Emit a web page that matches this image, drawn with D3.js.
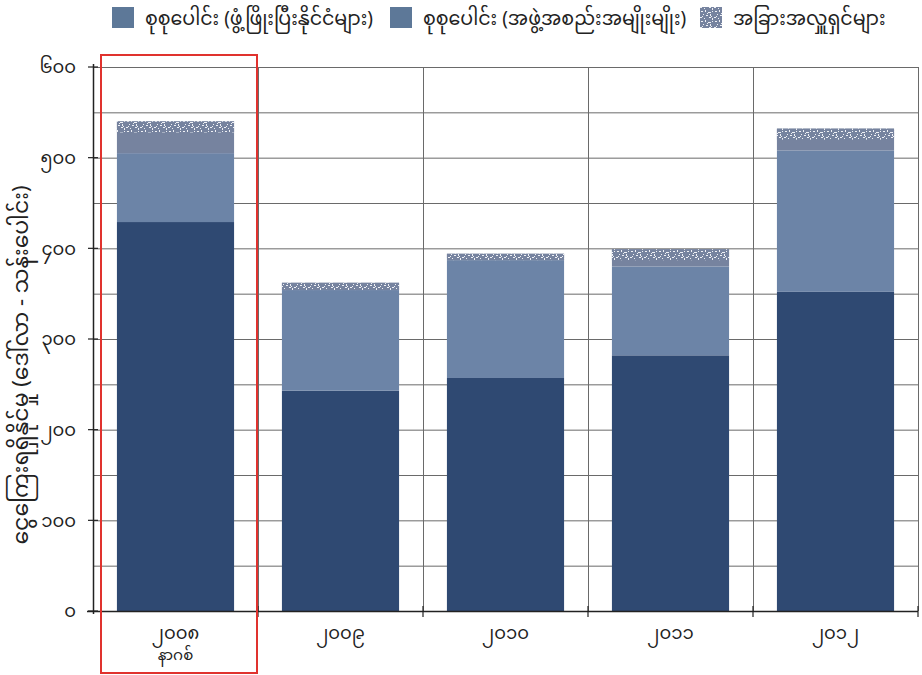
<!DOCTYPE html>
<html><head><meta charset="utf-8">
<script src="https://cdn.jsdelivr.net/npm/d3@7"></script>
<style>
html,body{margin:0;padding:0;background:#fff;}
svg{display:block;}
text{font-family:"Noto Sans Myanmar","Padauk","Myanmar Text","Noto Sans",sans-serif;fill:#222;}
</style></head>
<body>
<svg id="c" width="922" height="675"></svg>
<script>
const categories = ["၂၀၀၈", "၂၀၀၉", "၂၀၁၀", "၂၀၁၁", "၂၀၁၂"];
const categorySub = ["နာဂစ်", "", "", "", ""];
const developedCountries = [429, 243, 257, 282, 352];
const organizations = [76, 111, 130, 98, 156];
const otherDonors = [35, 8, 7, 19, 24];
const seriesNames = ["စုစုပေါင်း (ဖွံ့ဖြိုးပြီးနိုင်ငံများ)", "စုစုပေါင်း (အဖွဲ့အစည်းအမျိုးမျိုး)", "အခြားအလှူရှင်များ"];
const yTicks = [0, 100, 200, 300, 400, 500, 600];
const yTickLabels = ["၀", "၁၀၀", "၂၀၀", "၃၀၀", "၄၀၀", "၅၀၀", "၆၀၀"];
const yTitle = "ငွေကြေးရရှိနိုင်မှု (ဒေါ်လာ - သန်းပေါင်း)";
const highlightIndex = 0;

const colors = ["#2f4972", "#6c84a7", "#76839f"];

const svg = d3.select("#c");
const W = 922, H = 675;
const m = {l: 93, r: 4, t: 67, b: 64};
const x = d3.scaleBand().domain(categories).range([m.l, W - m.r]).paddingInner(0).paddingOuter(0);
const y = d3.scaleLinear().domain([0, 600]).range([H - m.b, m.t]);

// pattern for speckle
const defs = svg.append("defs");
const pat = defs.append("pattern").attr("id", "speck").attr("patternUnits", "userSpaceOnUse").attr("width", 14).attr("height", 10);
pat.append("rect").attr("width", 14).attr("height", 10).attr("fill", colors[2]);
const dots = [[1,1,2,1],[5,0,1,2],[8,2,3,1],[12,1,1,1],[3,4,1,1],[6,5,2,1],[10,4,1,2],[0,7,2,1],[4,8,1,1],[9,7,2,1],[12,8,1,2],[7,3,1,1],[2,6,1,1],[11,6,1,1]];
dots.forEach(d => pat.append("rect").attr("x", d[0]).attr("y", d[1]).attr("width", d[2]).attr("height", d[3]).attr("fill", "#eef0f5"));

// gridlines
const minor = d3.range(0, 601, 50);
svg.append("g").selectAll("line").data(minor).join("line")
  .attr("x1", m.l).attr("x2", W - m.r)
  .attr("y1", d => y(d) + 0.5).attr("y2", d => y(d) + 0.5)
  .attr("stroke", "#6a6a6a").attr("stroke-width", 1);
const bounds = categories.map(c => x(c) + x.bandwidth());
svg.append("g").selectAll("line").data(bounds).join("line")
  .attr("x1", d => Math.round(d) + 0.5).attr("x2", d => Math.round(d) + 0.5)
  .attr("y1", y(600)).attr("y2", y(0))
  .attr("stroke", "#6a6a6a").attr("stroke-width", 1);

// stacked bars
const rows = categories.map((c, i) => ({cat: c, a: developedCountries[i], b: organizations[i], o: otherDonors[i]}));
const stack = d3.stack().keys(["a", "b", "o"])(rows);
const bw = x.bandwidth() * 0.71;
const off = (x.bandwidth() - bw) / 2;
stack.forEach((layer, li) => {
  svg.append("g").selectAll("rect").data(layer).join("rect")
    .attr("x", d => x(d.data.cat) + off)
    .attr("width", bw)
    .attr("y", d => y(d[1]))
    .attr("height", d => y(d[0]) - y(d[1]))
    .attr("fill", colors[li]);
});
// speckled top band of "other donors" layer
svg.append("g").selectAll("rect").data(stack[2]).join("rect")
  .attr("x", d => x(d.data.cat) + off)
  .attr("width", bw)
  .attr("y", d => y(d[1]))
  .attr("height", d => Math.min(11, y(d[0]) - y(d[1])))
  .attr("fill", "url(#speck)");

// axes
const ya = d3.axisLeft(y).tickValues(yTicks).tickSize(0).tickFormat((d, i) => yTickLabels[i]);
const yg = svg.append("g").attr("transform", `translate(${m.l},0)`).call(ya);
yg.select(".domain").remove();
yg.selectAll("text").attr("x", -17).attr("font-size", 18).style("font-family", "'Noto Sans Myanmar','Padauk',sans-serif").attr("fill", "#222");
svg.append("line").attr("x1", m.l + 0.5).attr("x2", m.l + 0.5).attr("y1", y(600) - 3).attr("y2", y(0) + 3).attr("stroke", "#222").attr("stroke-width", 1.5);
svg.append("g").selectAll("line").data(yTicks).join("line")
  .attr("x1", m.l - 5).attr("x2", m.l + 5).attr("y1", d => y(d)).attr("y2", d => y(d))
  .attr("stroke", "#222").attr("stroke-width", 1.2);
svg.append("line").attr("x1", m.l - 6).attr("x2", W - m.r).attr("y1", y(0) + 0.5).attr("y2", y(0) + 0.5).attr("stroke", "#222").attr("stroke-width", 1.5);
svg.append("g").selectAll("line").data(bounds).join("line")
  .attr("x1", d => d).attr("x2", d => d).attr("y1", y(0) - 5).attr("y2", y(0) + 6)
  .attr("stroke", "#222").attr("stroke-width", 1.2);

// x labels
const xl = svg.append("g");
categories.forEach((c, i) => {
  const cx = x(c) + x.bandwidth() / 2;
  const t = xl.append("text").attr("x", cx).attr("y", y(0) + 28).attr("text-anchor", "middle").attr("font-size", 18);
  t.append("tspan").attr("x", cx).text(c);
  if (categorySub[i]) t.append("tspan").attr("x", cx).attr("dy", 21).attr("font-size", 15).text(categorySub[i]);
});

// y title
svg.append("text").attr("transform", `translate(28,365) rotate(-90)`)
  .attr("text-anchor", "middle").attr("font-size", 22).text(yTitle);

// highlight box
const hc = categories[highlightIndex];
svg.append("rect").attr("x", x(hc) + 8).attr("y", y(600) - 12)
  .attr("width", x.bandwidth() - 9).attr("height", H - 2 - (y(600) - 12))
  .attr("fill", "none").attr("stroke", "#e0322e").attr("stroke-width", 2);

// legend
const legX = [112, 390, 700];
const lg = svg.append("g");
seriesNames.forEach((n, i) => {
  lg.append("rect").attr("x", legX[i]).attr("y", 7).attr("width", 22).attr("height", 21)
    .attr("fill", i === 2 ? "url(#speck)" : "#5d7898");
  lg.append("text").attr("x", legX[i] + 33).attr("y", 25).attr("font-size", 19).text(n);
});
</script>
</body></html>
